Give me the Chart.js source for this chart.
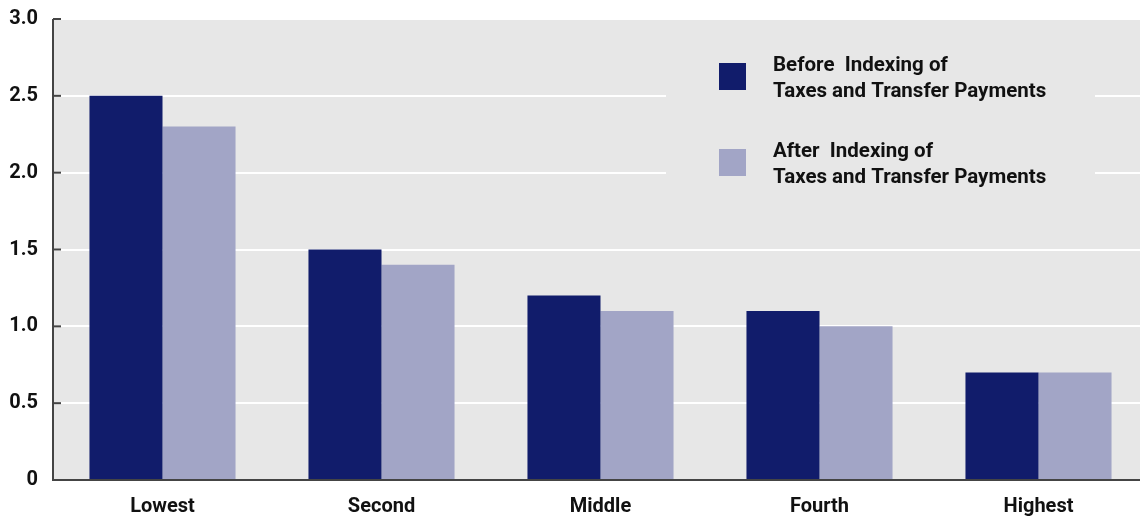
<!DOCTYPE html>
<html>
<head>
<meta charset="utf-8">
<script src="https://cdn.jsdelivr.net/npm/chart.js@4/dist/chart.umd.min.js"></script>
<style>
  html, body { margin: 0; padding: 0; background: #fff; overflow: hidden; }
  #wrap { width: 1150px; height: 521px; }
</style>
</head>
<body>
<div id="wrap"><canvas id="myChart"></canvas></div>
<script>
// data
const groups = ['Lowest', 'Second', 'Middle', 'Fourth', 'Highest'];
const beforeIndexing = [2.5, 1.5, 1.2, 1.1, 0.7];
const afterIndexing = [2.3, 1.4, 1.1, 1.0, 0.7];
const yTicks = [0, 0.5, 1.0, 1.5, 2.0, 2.5, 3.0];
const legendLines = [
  ['Before  Indexing of', 'Taxes and Transfer Payments'],
  ['After  Indexing of', 'Taxes and Transfer Payments']
];

const FONT = 'Roboto, "Liberation Sans", Arial, sans-serif';
const plotBg = '#e7e7e7';
const darkBlue = '#111c6b';
const lightBlue = '#a2a5c6';

// grey plot area
const plotBackground = {
  id: 'plotBackground',
  beforeDraw(chart) {
    const { ctx, chartArea: a } = chart;
    ctx.save();
    ctx.fillStyle = plotBg;
    ctx.fillRect(a.left, a.top, a.right - a.left, a.bottom - a.top);
    ctx.restore();
  }
};

// short dark tick marks inside the plot, plus axis lines
const axisMarks = {
  id: 'axisMarks',
  afterDatasetsDraw(chart) {
    const { ctx, chartArea: a } = chart;
    const y = chart.scales.y;
    ctx.save();
    ctx.strokeStyle = '#444';
    ctx.lineWidth = 2;
    ctx.beginPath();
    ctx.moveTo(a.left, a.top);
    ctx.lineTo(a.left, a.bottom);
    ctx.lineTo(a.right, a.bottom);
    ctx.stroke();
    yTicks.forEach(v => {
      const py = y.getPixelForValue(v);
      ctx.beginPath();
      ctx.moveTo(a.left, py);
      ctx.lineTo(a.left + 8, py);
      ctx.stroke();
    });
    ctx.restore();
  }
};

// legend sits in its own grey box over the gridlines
const boxLegend = {
  id: 'boxLegend',
  afterDatasetsDraw(chart) {
    const { ctx } = chart;
    ctx.save();
    ctx.fillStyle = plotBg;
    ctx.fillRect(666, 30, 429, 185);
    ctx.font = 'bold 20.5px ' + FONT;
    ctx.textBaseline = 'alphabetic';
    const tops = [55, 141];
    chart.data.datasets.forEach((ds, i) => {
      const t = tops[i];
      ctx.fillStyle = ds.backgroundColor;
      ctx.fillRect(719, t + 8, 27, 27);
      ctx.fillStyle = '#111';
      legendLines[i].forEach((line, j) => {
        ctx.fillText(line, 773, t + 16 + j * 26);
      });
    });
    ctx.restore();
  }
};

new Chart(document.getElementById('myChart'), {
  type: 'bar',
  data: {
    labels: groups,
    datasets: [
      { label: legendLines[0].join(' '), data: beforeIndexing, backgroundColor: darkBlue },
      { label: legendLines[1].join(' '), data: afterIndexing, backgroundColor: lightBlue }
    ]
  },
  options: {
    responsive: true,
    maintainAspectRatio: false,
    animation: false,
    layout: { padding: { top: 19, right: 2, left: 0, bottom: 0 } },
    categoryPercentage: 0.667,
    barPercentage: 1.0,
    plugins: {
      legend: { display: false },
      tooltip: { enabled: false }
    },
    scales: {
      x: {
        grid: { display: false, drawTicks: false },
        border: { display: false },
        ticks: {
          color: '#111',
          padding: 15,
          font: { family: FONT, size: 20, weight: 'bold' }
        },
        afterFit(scale) { scale.height = 41; }
      },
      y: {
        min: 0,
        max: 3.0,
        afterBuildTicks(scale) { scale.ticks = yTicks.map(v => ({ value: v })); },
        grid: { color: '#ffffff', lineWidth: 2, drawTicks: false },
        border: { display: false },
        ticks: {
          color: '#111',
          padding: 15,
          font: { family: FONT, size: 20, weight: 'bold' },
          callback: v => (v === 0 ? '0' : v.toFixed(1))
        },
        afterFit(scale) {
          scale.width = 53;
          scale.paddingTop = 0;
          scale.paddingBottom = 0;
        }
      }
    }
  },
  plugins: [plotBackground, axisMarks, boxLegend]
});
</script>
</body>
</html>
